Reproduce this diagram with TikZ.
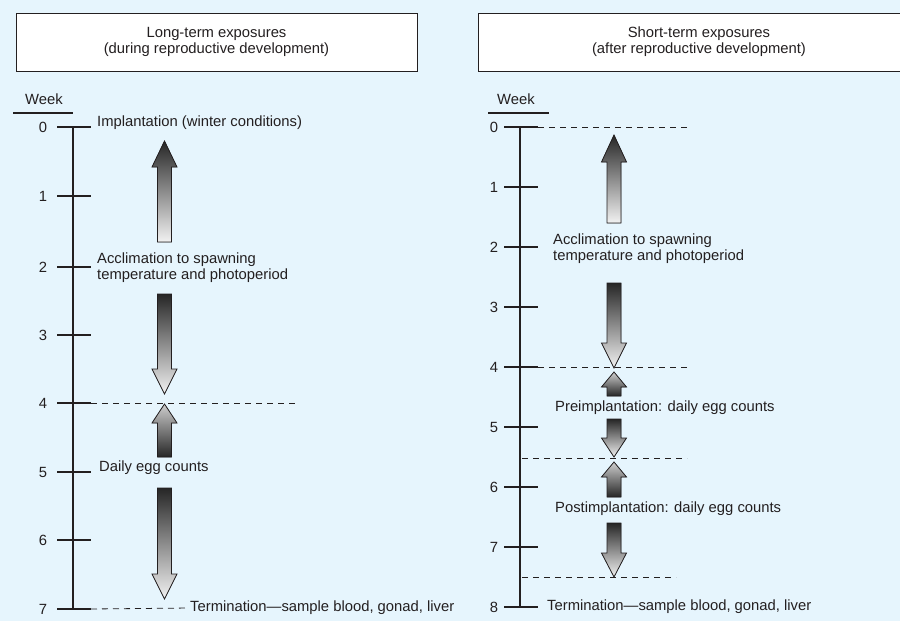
\documentclass[tikz,border=0pt]{standalone}
\usepackage{fontspec}
\setmainfont{Liberation Sans}
\usepackage{tikz}
\definecolor{bgblue}{RGB}{230,245,253}
\definecolor{inkgray}{RGB}{35,31,32}
\definecolor{shadedark}{RGB}{38,38,38}
\definecolor{shadelight}{RGB}{242,242,242}
\tikzset{%
  txt/.style = {font=\fontsize{14.8}{16}\selectfont, text=inkgray},
  header/.style = {rectangle, draw=inkgray, line width=1pt, fill=white,
      minimum height=58pt, align=center, txt},
  note/.style = {anchor=west, align=left, inner sep=0pt, txt},
  weeknum/.style = {inner sep=0pt, txt},
  axis/.style = {draw=inkgray, line width=1.1pt},
  tick/.style = {draw=inkgray, line width=1.1pt},
  weekrule/.style = {draw=inkgray, line width=2.6pt},
  guide/.style = {draw=inkgray, line width=0.8pt, dash pattern=on 6pt off 5pt},
  blockarrow/.style = {draw=inkgray, line width=0.8pt},
  fadeDown/.style = {top color=shadedark, bottom color=shadelight},
  fadeUp/.style = {top color=shadelight!85!black, bottom color=shadedark},
}
% block arrow: [shading]{x}{tail y}{head base y}{tip y}
\newcommand{\fatArrow}[5][]{%
  \filldraw[blockarrow,#1] (#2-7,#3) -- (#2-7,#4) -- (#2-12.5,#4) -- (#2,#5)
      -- (#2+12.5,#4) -- (#2+7,#4) -- (#2+7,#3) -- cycle;}

\begin{document}
\begin{tikzpicture}[x=1pt, y=-1pt]
  \useasboundingbox[fill=bgblue] (0,0) rectangle (900,621);
  % Headers of both panels
  \node (leftHead)  [header, minimum width=401pt] at (216.5,42)
        {Long-term exposures\\(during reproductive development)};
  \node (rightHead) [header, minimum width=442pt] at (699,42)
        {Short-term exposures\\(after reproductive development)};

  % Left panel: long-term exposures
  \node (leftWeek) [weeknum] at (44,99) {Week};
  \draw[weekrule] (13,113) -- (73,113);
  \foreach \w/\y in {0/127,1/196,2/267,3/335,4/403,5/472,6/540,7/609} {
    \coordinate (L\w) at (73,\y);
    \coordinate (Lt\w) at (91,\y);
    \draw[tick] (57,\y) -- (Lt\w);
    \node (Ln\w) [weeknum] at (43,\y) {\w};
  }
  \draw[axis] (L0) -- (L7);

  \node (implantL) [note] at (97,123) {Implantation (winter conditions)};
  \node (acclimL)  [note] at (97,268)
        {Acclimation to spawning\\temperature and photoperiod};
  \node (dailyL)   [note] at (99,468) {Daily egg counts};
  \node (termL)    [note] at (190,608) {Termination—sample blood, gonad, liver};

  \draw[guide] (Lt4) -- ++(207,0);
  \draw[guide, shorten >=4pt] (Lt7) -- (termL.west);

  \fatArrow[fadeDown]{164.5}{242}{167}{141}
  \fatArrow[fadeDown]{164.5}{294}{369}{394}
  \fatArrow[fadeUp]{164.5}{457}{423}{404}
  \fatArrow[fadeDown]{164.5}{488}{574}{599}

  % Right panel: short-term exposures
  \node (rightWeek) [weeknum] at (516,99) {Week};
  \draw[weekrule] (488,113) -- (549,113);
  \foreach \w in {0,...,8} {
    \coordinate (R\w) at (520,{127+60*\w});
    \coordinate (Rt\w) at (538,{127+60*\w});
    \draw[tick] (504,{127+60*\w}) -- (Rt\w);
    \node (Rn\w) [weeknum] at (494,{127+60*\w}) {\w};
  }
  \draw[axis] (R0) -- (R8);
  \coordinate (Rhalf5) at (522,458);
  \coordinate (Rhalf7) at (522,577);

  \node (acclimR) [note] at (553,249)
        {Acclimation to spawning\\temperature and photoperiod};
  \node (preR)    [note] at (555,408) {Preimplantation: daily egg counts};
  \node (postR)   [note] at (555,509) {Postimplantation: daily egg counts};
  \node (termR)   [note] at (547,607) {Termination—sample blood, gonad, liver};

  \draw[guide] (Rt0) -- ++(153,0);
  \draw[guide] (Rt4) -- ++(153,0);
  \draw[guide] (Rhalf5) -- ++(165,0);
  \draw[guide] (Rhalf7) -- ++(154,0);

  \fatArrow[fadeDown]{614}{223}{162}{135}
  \fatArrow[fadeDown]{614}{283}{343}{368}
  \fatArrow[fadeUp]{614}{396}{387}{372}
  \fatArrow[fadeDown]{614}{419}{438}{457}
  \fatArrow[fadeUp]{614}{497}{477}{462}
  \fatArrow[fadeDown]{614}{523}{553}{577}
\end{tikzpicture}
\end{document}
